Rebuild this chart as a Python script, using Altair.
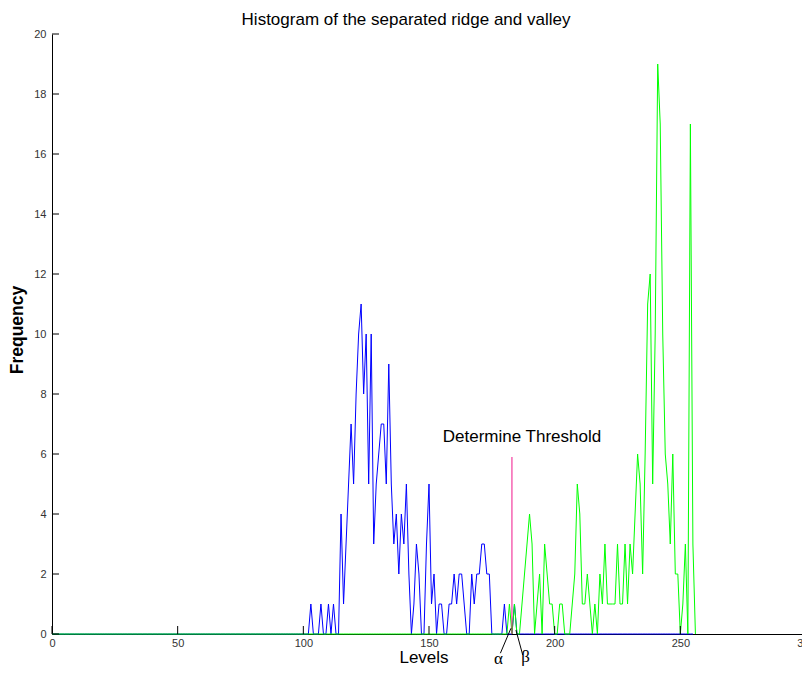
import altair as alt
import pandas as pd

title_text = "Histogram of the separated ridge and valley"
x_label = "Levels"
y_label = "Frequency"
x_ticks = [0, 50, 100, 150, 200, 250, 300]
y_ticks = [0, 2, 4, 6, 8, 10, 12, 14, 16, 18, 20]

n_levels = 257
blue_start = 100
blue_counts = [0, 0, 0, 1, 0, 0, 0, 1, 0, 0,      # 100-109
               1, 0, 1, 0, 0, 4, 1, 3, 5, 7,      # 110-119
               5, 8, 10, 11, 8, 10, 5, 10, 3, 5,  # 120-129
               6, 7, 7, 5, 9, 5, 3, 4, 2, 4,      # 130-139
               3, 5, 2, 0, 1, 3, 2, 0, 0, 3,      # 140-149
               5, 1, 2, 0, 1, 1, 0, 0, 1, 1,      # 150-159
               2, 1, 2, 2, 1, 0, 0, 2, 1, 2,      # 160-169
               2, 3, 3, 2, 2, 0, 0, 0, 0, 0,      # 170-179
               1, 0, 0, 0, 1, 0, 0]               # 180-186
blue_end = 255
green_start = 180
green_counts = [0, 0, 1, 0, 1, 0, 0, 1, 2, 3,     # 180-189
                4, 3, 0, 1, 2, 0, 3, 2, 1, 1,     # 190-199
                0, 0, 1, 1, 0, 0, 0, 1, 2, 5,     # 200-209
                4, 1, 1, 2, 1, 0, 1, 0, 2, 1,     # 210-219
                3, 1, 1, 1, 1, 3, 1, 1, 3, 1,     # 220-229
                3, 2, 4, 6, 5, 2, 6, 11, 12, 5,   # 230-239
                10, 19, 17, 10, 6, 5, 3, 6, 2, 2, # 240-249
                0, 1, 3, 0, 17, 3, 0]             # 250-256

threshold_level = 183
threshold_height = 5.9
threshold_text = "Determine Threshold"
threshold_text_pos = [187, 6.57]
alpha_text_pos = [177.6, -1.0]
beta_text_pos = [188.4, -0.92]
alpha_line = [178.4, -0.64, 182.6, 0.19]
beta_line = [187.3, -0.70, 184.6, 0.13]

blue_full = [0] * (blue_end + 1)
for i, v in enumerate(blue_counts):
    blue_full[blue_start + i] = v
green_full = [0] * n_levels
for i, v in enumerate(green_counts):
    green_full[green_start + i] = v

blue_df = pd.DataFrame({"level": list(range(blue_end + 1)), "count": blue_full})
green_df = pd.DataFrame({"level": list(range(n_levels)), "count": green_full})

FONT = "Liberation Sans"
# the axes run slightly past the page edge, as in the reference (300 is cut off)
xscale = alt.Scale(domain=[0, 300], range=[0, 754], nice=False, zero=False)
yscale = alt.Scale(domain=[0, 20], nice=False, zero=False)
xaxis = alt.Axis(values=x_ticks, title=None, grid=False, ticks=False,
                 domainColor="black", domainWidth=1, labelFontSize=11,
                 labelColor="#333333", labelFont=FONT, labelPadding=3,
                 labelFlush=False, labelOverlap=False, format="d")
yaxis = alt.Axis(values=y_ticks, title=None, grid=False, ticks=False,
                 domainColor="black", domainWidth=1, labelFontSize=11,
                 labelColor="#333333", labelFont=FONT, labelPadding=6,
                 labelOverlap=False, format="d")

blue_line = alt.Chart(blue_df).mark_line(color="#0000ff", strokeWidth=1).encode(
    x=alt.X("level:Q", scale=xscale, axis=xaxis),
    y=alt.Y("count:Q", scale=yscale, axis=yaxis),
)
green_line = alt.Chart(green_df).mark_line(color="#00ff00", strokeWidth=1).encode(
    x=alt.X("level:Q", scale=xscale),
    y=alt.Y("count:Q", scale=yscale),
)

xt_df = pd.DataFrame({"t": x_ticks})
yt_df = pd.DataFrame({"t": y_ticks})
x_tick_marks = alt.Chart(xt_df).mark_rule(color="black", strokeWidth=1).encode(
    x=alt.X("t:Q", scale=xscale), y=alt.value(600), y2=alt.value(592))
y_tick_marks = alt.Chart(yt_df).mark_rule(color="black", strokeWidth=1).encode(
    y=alt.Y("t:Q", scale=yscale), x=alt.value(0), x2=alt.value(7))

thr = alt.Chart(pd.DataFrame({"x": [threshold_level], "y": [0], "y2": [threshold_height]})).mark_rule(
    color="#f0168c", strokeWidth=1).encode(x="x:Q", y="y:Q", y2="y2:Q")

ann_lines_df = pd.DataFrame({
    "x": [alpha_line[0], beta_line[0]], "y": [alpha_line[1], beta_line[1]],
    "x2": [alpha_line[2], beta_line[2]], "y2": [alpha_line[3], beta_line[3]],
})
ann_lines = alt.Chart(ann_lines_df).mark_rule(color="black", strokeWidth=1).encode(
    x="x:Q", y="y:Q", x2="x2:Q", y2="y2:Q")

thr_text = alt.Chart(pd.DataFrame({"x": [threshold_text_pos[0]], "y": [threshold_text_pos[1]], "t": [threshold_text]})).mark_text(
    font=FONT, fontSize=17, color="black", align="center", baseline="middle").encode(
    x="x:Q", y="y:Q", text="t:N")

greek_df = pd.DataFrame({"x": [alpha_text_pos[0], beta_text_pos[0]],
                         "y": [alpha_text_pos[1], beta_text_pos[1]],
                         "t": ["α", "β"]})
greek = alt.Chart(greek_df).mark_text(
    font="Liberation Serif", fontSize=17, color="black", align="center", baseline="alphabetic").encode(
    x="x:Q", y="y:Q", text="t:N")

title_mark = alt.Chart(pd.DataFrame({"t": [title_text]})).mark_text(
    font=FONT, fontSize=17, color="black", align="center", baseline="middle").encode(
    x=alt.value(354), y=alt.value(-14), text="t:N")
xlab = alt.Chart(pd.DataFrame({"t": [x_label]})).mark_text(
    font=FONT, fontSize=17, color="black", align="center", baseline="alphabetic").encode(
    x=alt.value(372), y=alt.value(629), text="t:N")
ylab = alt.Chart(pd.DataFrame({"t": [y_label]})).mark_text(
    font=FONT, fontSize=17.5, fontWeight="bold", color="black", align="center", baseline="middle", angle=270).encode(
    x=alt.value(-34), y=alt.value(296), text="t:N")

chart = alt.layer(
    blue_line, green_line, thr, x_tick_marks, y_tick_marks, ann_lines,
    thr_text, greek, title_mark, xlab, ylab
).properties(
    width=750, height=600,
    autosize=alt.AutoSizeParams(type="none"),
    padding={"left": 44, "top": 26, "right": 0, "bottom": 33},
    background="white",
).configure_view(stroke=None)

chart.save("out.html", embed_options={"renderer": "svg", "actions": False})
